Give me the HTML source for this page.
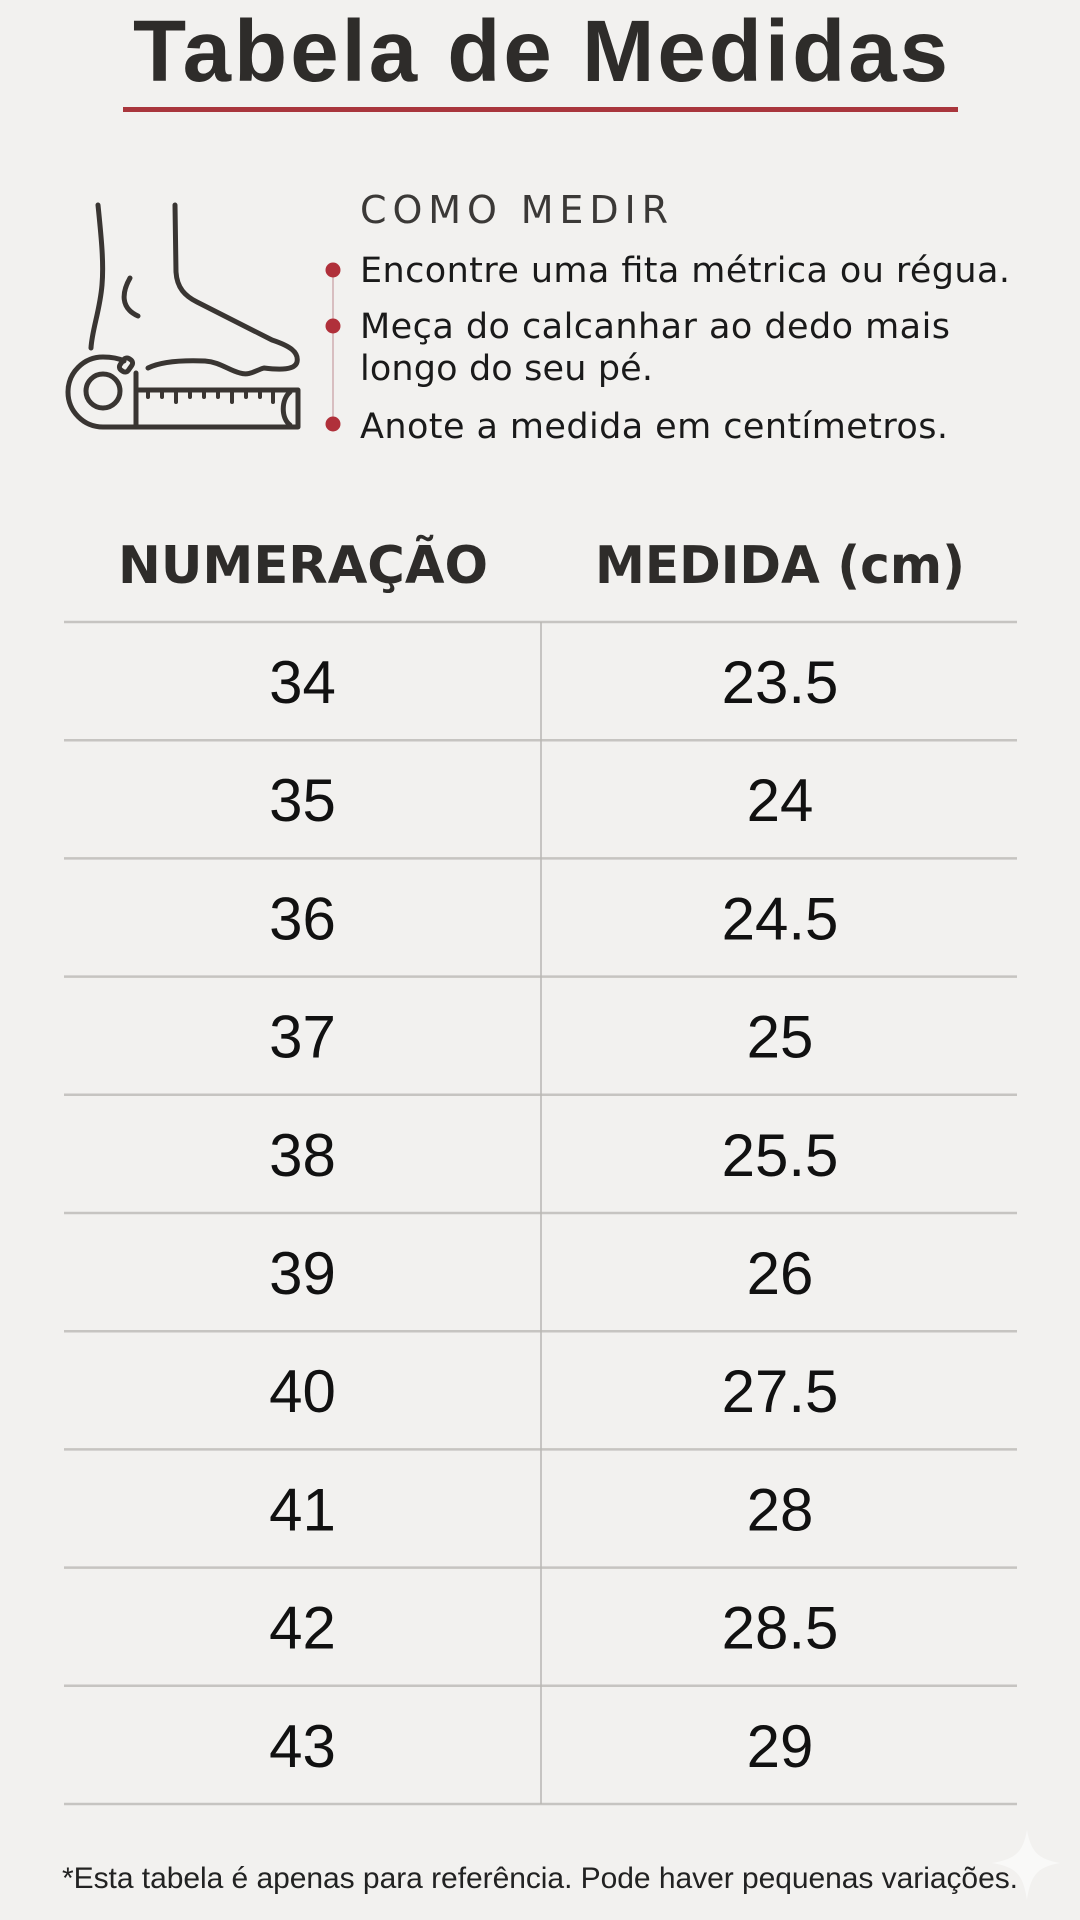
<!DOCTYPE html>
<html>
<head>
<meta charset="utf-8">
<style>
  html,body{margin:0;padding:0;background:#f2f1ef;}
  body{width:1080px;height:1920px;overflow:hidden;}
  svg{display:block;font-family:"Liberation Sans", sans-serif;}
  .dj, .dj text{font-family:"DejaVu Sans","Liberation Sans", sans-serif;}
</style>
</head>
<body>
<svg width="1080" height="1920" viewBox="0 0 1080 1920" xmlns="http://www.w3.org/2000/svg">
  <rect x="0" y="0" width="1080" height="1920" fill="#f2f1ef"/>

  <!-- Title -->
  <text x="133" y="81" font-size="87" font-weight="700" fill="#2e2c2a" textLength="815" lengthAdjust="spacing">Tabela de Medidas</text>
  <rect x="123" y="107" width="835" height="5" fill="#a9363c"/>

  <!-- Foot icon -->
  <g fill="none" stroke="#393532" stroke-width="5" stroke-linecap="round" stroke-linejoin="round">
    <path d="M98,205 C101,235 104,262 102,285 C100,310 92,330 91,348"/>
    <path d="M130,278 C122,292 120,308 138,316"/>
    <path d="M175,205 L176,272 C177,288 185,296 197,302 L272,340 C290,346 299,352 297,362 C295,370 280,370 264,368 C256,370 250,376 240,373 C228,370 220,362 205,361 C180,360 160,362 148,368"/>
    <!-- tape case -->
    <path d="M124,361 C118,358 110,357 103,357 A35,35 0 1 0 103,427 L298,427 L298,390 L136,390"/>
    <path d="M136,373 L136,427"/>
    <circle cx="103" cy="391" r="17"/>
    <rect x="121" y="358" width="10" height="14" rx="4" transform="rotate(35 126 365)"/>
    <!-- hook -->
    <path d="M290,392 C281,400 281,418 290,425"/>
    <!-- ticks -->
    <path d="M148,390 L148,397 M162,390 L162,397 M176,390 L176,402 M190,390 L190,397 M204,390 L204,397 M218,390 L218,397 M232,390 L232,402 M246,390 L246,397 M260,390 L260,397 M273,390 L273,402" stroke-width="4"/>
  </g>

  <!-- How to measure -->
  <text class="dj" x="360" y="223" font-size="38" fill="#3b3937" textLength="308" lengthAdjust="spacing">COMO MEDIR</text>
  <line x1="333" y1="270" x2="333" y2="425" stroke="#cfaeb0" stroke-width="1.5"/>
  <circle cx="333" cy="270" r="7.5" fill="#b0303a"/>
  <circle cx="333" cy="326" r="7.5" fill="#b0303a"/>
  <circle cx="333" cy="424" r="7.5" fill="#b0303a"/>
  <g class="dj" font-size="35" fill="#1a1a1a">
    <text x="360" y="282" textLength="650" lengthAdjust="spacing">Encontre uma fita métrica ou régua.</text>
    <text x="360" y="338" textLength="590" lengthAdjust="spacing">Meça do calcanhar ao dedo mais</text>
    <text x="360" y="380" textLength="293" lengthAdjust="spacing">longo do seu pé.</text>
    <text x="360" y="438" textLength="588" lengthAdjust="spacing">Anote a medida em centímetros.</text>
  </g>

  <!-- Table header -->
  <g class="dj" font-size="52" font-weight="700" fill="#2e2c2a" text-anchor="middle">
    <text x="303" y="583" textLength="370" lengthAdjust="spacingAndGlyphs">NUMERAÇÃO</text>
    <text x="780" y="583" textLength="370" lengthAdjust="spacingAndGlyphs">MEDIDA (cm)</text>
  </g>

  <!-- Table lines -->
  <g stroke="#c6c4c1" stroke-width="2.5">
    <line x1="64" y1="622" x2="1017" y2="622"/>
    <line x1="64" y1="740.2" x2="1017" y2="740.2"/>
    <line x1="64" y1="858.4" x2="1017" y2="858.4"/>
    <line x1="64" y1="976.6" x2="1017" y2="976.6"/>
    <line x1="64" y1="1094.8" x2="1017" y2="1094.8"/>
    <line x1="64" y1="1213" x2="1017" y2="1213"/>
    <line x1="64" y1="1331.2" x2="1017" y2="1331.2"/>
    <line x1="64" y1="1449.4" x2="1017" y2="1449.4"/>
    <line x1="64" y1="1567.6" x2="1017" y2="1567.6"/>
    <line x1="64" y1="1685.8" x2="1017" y2="1685.8"/>
    <line x1="64" y1="1804" x2="1017" y2="1804"/>
  </g>
  <line x1="541" y1="622" x2="541" y2="1804" stroke="#b8b6b3" stroke-width="1.5"/>

  <!-- Table values -->
  <g font-size="60" fill="#111111" text-anchor="middle">
    <text x="302.5" y="703">34</text><text x="780" y="703">23.5</text>
    <text x="302.5" y="821.2">35</text><text x="780" y="821.2">24</text>
    <text x="302.5" y="939.4">36</text><text x="780" y="939.4">24.5</text>
    <text x="302.5" y="1057.6">37</text><text x="780" y="1057.6">25</text>
    <text x="302.5" y="1175.8">38</text><text x="780" y="1175.8">25.5</text>
    <text x="302.5" y="1294">39</text><text x="780" y="1294">26</text>
    <text x="302.5" y="1412.2">40</text><text x="780" y="1412.2">27.5</text>
    <text x="302.5" y="1530.4">41</text><text x="780" y="1530.4">28</text>
    <text x="302.5" y="1648.6">42</text><text x="780" y="1648.6">28.5</text>
    <text x="302.5" y="1766.8">43</text><text x="780" y="1766.8">29</text>
  </g>

  <!-- Footer -->
  <text x="62" y="1888" font-size="30" fill="#222222" textLength="956" lengthAdjust="spacing">*Esta tabela é apenas para referência. Pode haver pequenas variações.</text>

  <!-- faint sparkle -->
  <path d="M1027,1830 C1031,1852 1038,1859 1060,1863 C1038,1867 1031,1874 1027,1900 C1023,1874 1016,1867 992,1863 C1016,1859 1023,1852 1027,1830 Z" fill="#f9f9f8"/>
</svg>
</body>
</html>
